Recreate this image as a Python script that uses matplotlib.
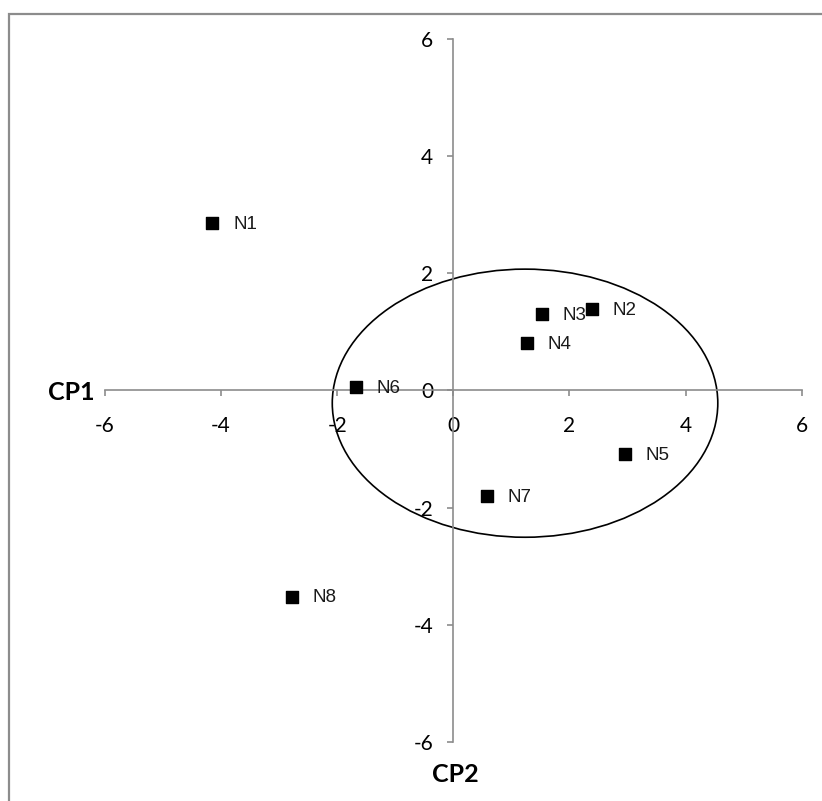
import matplotlib.pyplot as plt
from matplotlib.patches import Ellipse, Rectangle

# PCA scores
labels = ["N1", "N2", "N3", "N4", "N5", "N6", "N7", "N8"]
cp1 = [-4.15, 2.38, 1.52, 1.27, 2.95, -1.68, 0.58, -2.78]
cp2 = [2.86, 1.39, 1.31, 0.81, -1.09, 0.06, -1.81, -3.52]
ticks = [-6, -4, -2, 0, 2, 4, 6]

# group ellipse (centre, width, height)
ell_center = (1.235, -0.217)
ell_w, ell_h = 6.64, 4.58

fig = plt.figure(figsize=(8.22, 8.01), dpi=100)
ax = fig.add_axes([0.1277, 0.074, 0.8476, 0.877])

# outer chart border (cut off on the right and bottom)
fig.patches.append(Rectangle((9.0 / 822, -0.1), 1.2, 1.1 - 14 / 801,
                             transform=fig.transFigure, fill=False,
                             edgecolor='#8c8c8c', lw=1.6, zorder=0))

ax.set_xlim(-6, 6)
ax.set_ylim(-6, 6)

ax.spines['left'].set_position(('data', 0))
ax.spines['bottom'].set_position(('data', 0))
ax.spines['top'].set_visible(False)
ax.spines['right'].set_visible(False)
for s in ('left', 'bottom'):
    ax.spines[s].set_color('#8c8c8c')
    ax.spines[s].set_linewidth(1.2)

ax.set_xticks(ticks)
ax.set_yticks(ticks)
ax.set_xticklabels([str(t) for t in ticks])
ax.set_yticklabels([str(t) for t in ticks])
ax.tick_params(axis='both', direction='out', length=4.5, width=1.2,
               color='#8c8c8c', labelsize=15)
ax.tick_params(axis='x', pad=14)
ax.tick_params(axis='y', pad=10)
for lab in ax.get_xticklabels() + ax.get_yticklabels():
    lab.set_family('Lato')

ax.scatter(cp1, cp2, marker='s', s=85, color='black', zorder=3)
for x, y, name in zip(cp1, cp2, labels):
    ax.annotate(name, (x, y), xytext=(15, -1), textcoords='offset points',
                va='center', ha='left', fontsize=13.5, family='Liberation Sans',
                color='#1a1a1a')

ax.add_patch(Ellipse(ell_center, ell_w, ell_h, fill=False,
                     edgecolor='black', lw=1.2, zorder=2))

fig.text(95 / 822, 1 - 392 / 801, "CP1", ha='right', va='center',
         fontsize=18, fontweight='bold', family='Lato')
fig.text(455 / 822, 1 - 774 / 801, "CP2", ha='center', va='center',
         fontsize=18, fontweight='bold', family='Lato')

fig.savefig('out.png', dpi=100)
